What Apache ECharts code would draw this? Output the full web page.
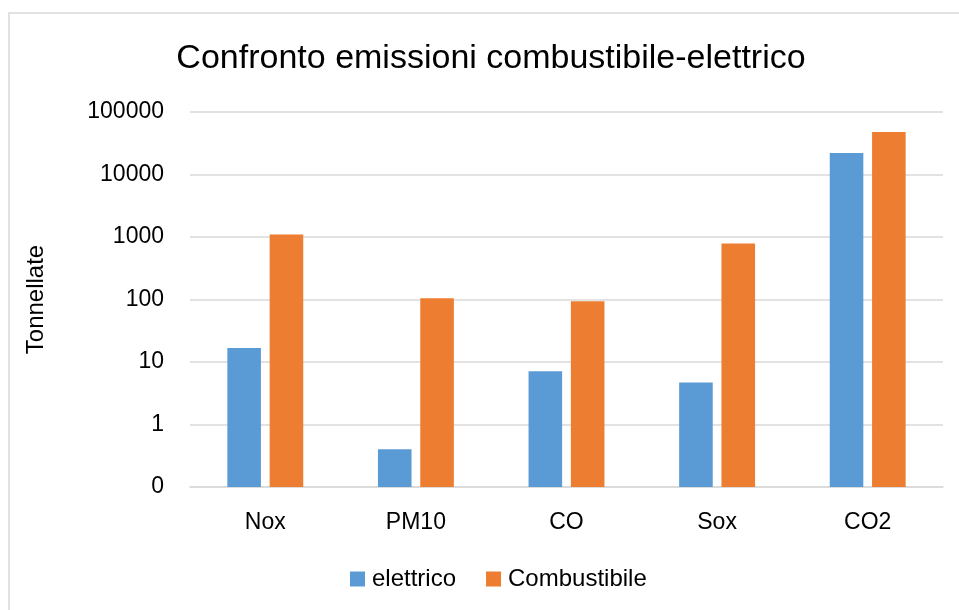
<!DOCTYPE html>
<html>
<head>
<meta charset="utf-8">
<script src="https://cdn.jsdelivr.net/npm/echarts@6/dist/echarts.min.js"></script>
<style>html,body{margin:0;padding:0;background:#fff}#c{width:959px;height:610px}</style>
</head>
<body>
<div id="c"></div>
<script>
var categories = ['Nox', 'PM10', 'CO', 'Sox', 'CO2'];
var elettrico = [16.8, 0.4, 7.1, 4.7, 22000];
var combustibile = [1100, 105, 94, 790, 48000];
var seriesNames = ['elettrico', 'Combustibile'];
var titleText = 'Confronto emissioni combustibile-elettrico';
var yName = 'Tonnellate';
var yMin = 0.1, yMax = 100000;

var chart = echarts.init(document.getElementById('c'));
var FONT = '"Liberation Sans", Arial, sans-serif';
var colors = ['#5B9BD5', '#ED7D31'];

function makeSeries(idx, vals) {
  return {
    name: seriesNames[idx],
    type: 'custom',
    itemStyle: { color: colors[idx] },
    data: vals.map(function (v, i) { return [i, v]; }),
    encode: { x: 0, y: 1 },
    renderItem: function (params, api) {
      var cat = api.value(0), v = api.value(1);
      var top = api.coord([cat, v]);
      var base = api.coord([cat, yMin]);
      var band = api.size([1, 1])[0];
      var w = band * 0.223;
      var gap = band * 0.058;
      var cx = top[0] + (idx === 0 ? -1 : 1) * (w + gap) / 2;
      return {
        type: 'rect',
        shape: { x: cx - w / 2, y: top[1], width: w, height: base[1] - top[1] },
        style: { fill: colors[idx] }
      };
    }
  };
}

chart.setOption({
  animation: false,
  backgroundColor: '#fff',
  graphic: [{
    type: 'rect', x: 9, y: 13,
    shape: { width: 1000, height: 700 },
    style: { fill: 'none', stroke: '#d9d9d9', lineWidth: 1.5 },
    silent: true, z: -1
  }, {
    type: 'text', x: 491, y: 59,
    style: {
      text: titleText, fontFamily: FONT, fontSize: 34, fill: '#000',
      align: 'center', verticalAlign: 'middle'
    },
    silent: true
  }],
  legend: {
    bottom: 14, left: 345,
    icon: 'rect', itemWidth: 15, itemHeight: 15, itemGap: 30,
    textStyle: { fontFamily: FONT, fontSize: 24, color: '#000', padding: [0, 0, 0, 2] },
    data: seriesNames
  },
  grid: { left: 190, right: 16, top: 112, bottom: 123 },
  xAxis: {
    type: 'category', data: categories,
    axisLine: { lineStyle: { color: '#d9d9d9', width: 1.5 } },
    axisTick: { show: false },
    axisLabel: { margin: 24, fontFamily: FONT, fontSize: 23, color: '#000' }
  },
  yAxis: {
    type: 'log', logBase: 10, min: yMin, max: yMax,
    name: yName, nameLocation: 'middle', nameGap: 142, nameRotate: 90,
    nameTextStyle: { fontFamily: FONT, fontSize: 24, color: '#000' },
    axisLine: { show: false }, axisTick: { show: false },
    splitLine: { lineStyle: { color: '#d9d9d9', width: 1.5 } },
    axisLabel: {
      margin: 26, fontFamily: FONT, fontSize: 23, color: '#000',
      formatter: function (v) { return v < 1 ? '0' : String(Math.round(v)); }
    }
  },
  series: [makeSeries(0, elettrico), makeSeries(1, combustibile)]
});
</script>
</body>
</html>
